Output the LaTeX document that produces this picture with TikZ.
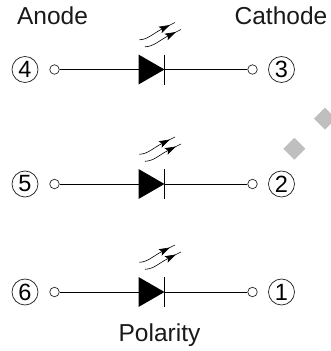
\documentclass[tikz,border=0pt]{standalone}
\usepackage{fontspec}
\setmainfont{Liberation Sans}
\usetikzlibrary{arrows.meta}
\tikzset{
  x=1pt,y=-1pt,
  label text/.style={inner sep=0pt,font=\fontsize{24.5}{26}\selectfont,text=black!90},
  pin number/.style={circle,draw=black!85,line width=0.75pt,minimum size=26pt,inner sep=0pt,font=\fontsize{23.5}{24}\selectfont},
  terminal/.style={circle,draw=black!85,line width=0.7pt,minimum size=9.5pt,inner sep=0pt,fill=white},
  wire/.style={line width=0.9pt,draw=black},
  light ray/.style={line width=0.6pt,draw=black,-{Stealth[length=11pt,width=7pt,inset=2pt]}},
  light end/.style={line width=0.6pt,draw=black},
  mark gem/.style={fill=black!25,draw=none}
}
\begin{document}
\begin{tikzpicture}
\useasboundingbox (0,0) rectangle (331,351);
\node[label text] (anode) at (52.5,16) {Anode};
\node[label text] (cathode) at (281,16) {Cathode};
\node[label text] (polarity) at (159.5,335) {Polarity};
\fill[mark gem] (294.3,137.7) -- (305.3,148.7) -- (294.3,159.7) -- (283.3,148.7) -- cycle;
\fill[mark gem] (325,107.7) -- (336,118.7) -- (325,129.7) -- (314,118.7) -- cycle;
\foreach \r/\y/\l/\n in {a/69.5/4/3, b/184/5/2, c/292/6/1}{
  \node[pin number] (pl\r) at (25,\y) {\l};
  \node[pin number] (pr\r) at (281.5,\y) {\n};
  \node[terminal] (tl\r) at (54.5,\y) {};
  \node[terminal] (tr\r) at (252.5,\y) {};
  \coordinate (da\r) at (138.5,\y);
  \coordinate (dk\r) at (164.5,\y);
  \draw[wire] (tl\r) -- (da\r);
  \draw[wire] (dk\r) -- (tr\r);
  \fill[black] (138.5,\y-15) -- (164.5,\y) -- (138.5,\y+15) -- cycle;
  \draw[line width=0.8pt] (164.5,\y-15) -- (164.5,\y+15);
  \begin{scope}[shift={(0,\y-292)}]
    \draw[light ray] (139.3,262.3) .. controls (148,262) and (153,256) .. (170,247.5);
    \draw[light end] (168,248.5) -- (175,245);
    \draw[light ray] (145,269.3) .. controls (154,269) and (159,263) .. (176,254.5);
    \draw[light end] (174,255.5) -- (181,252);
  \end{scope}
}
\end{tikzpicture}
\end{document}
